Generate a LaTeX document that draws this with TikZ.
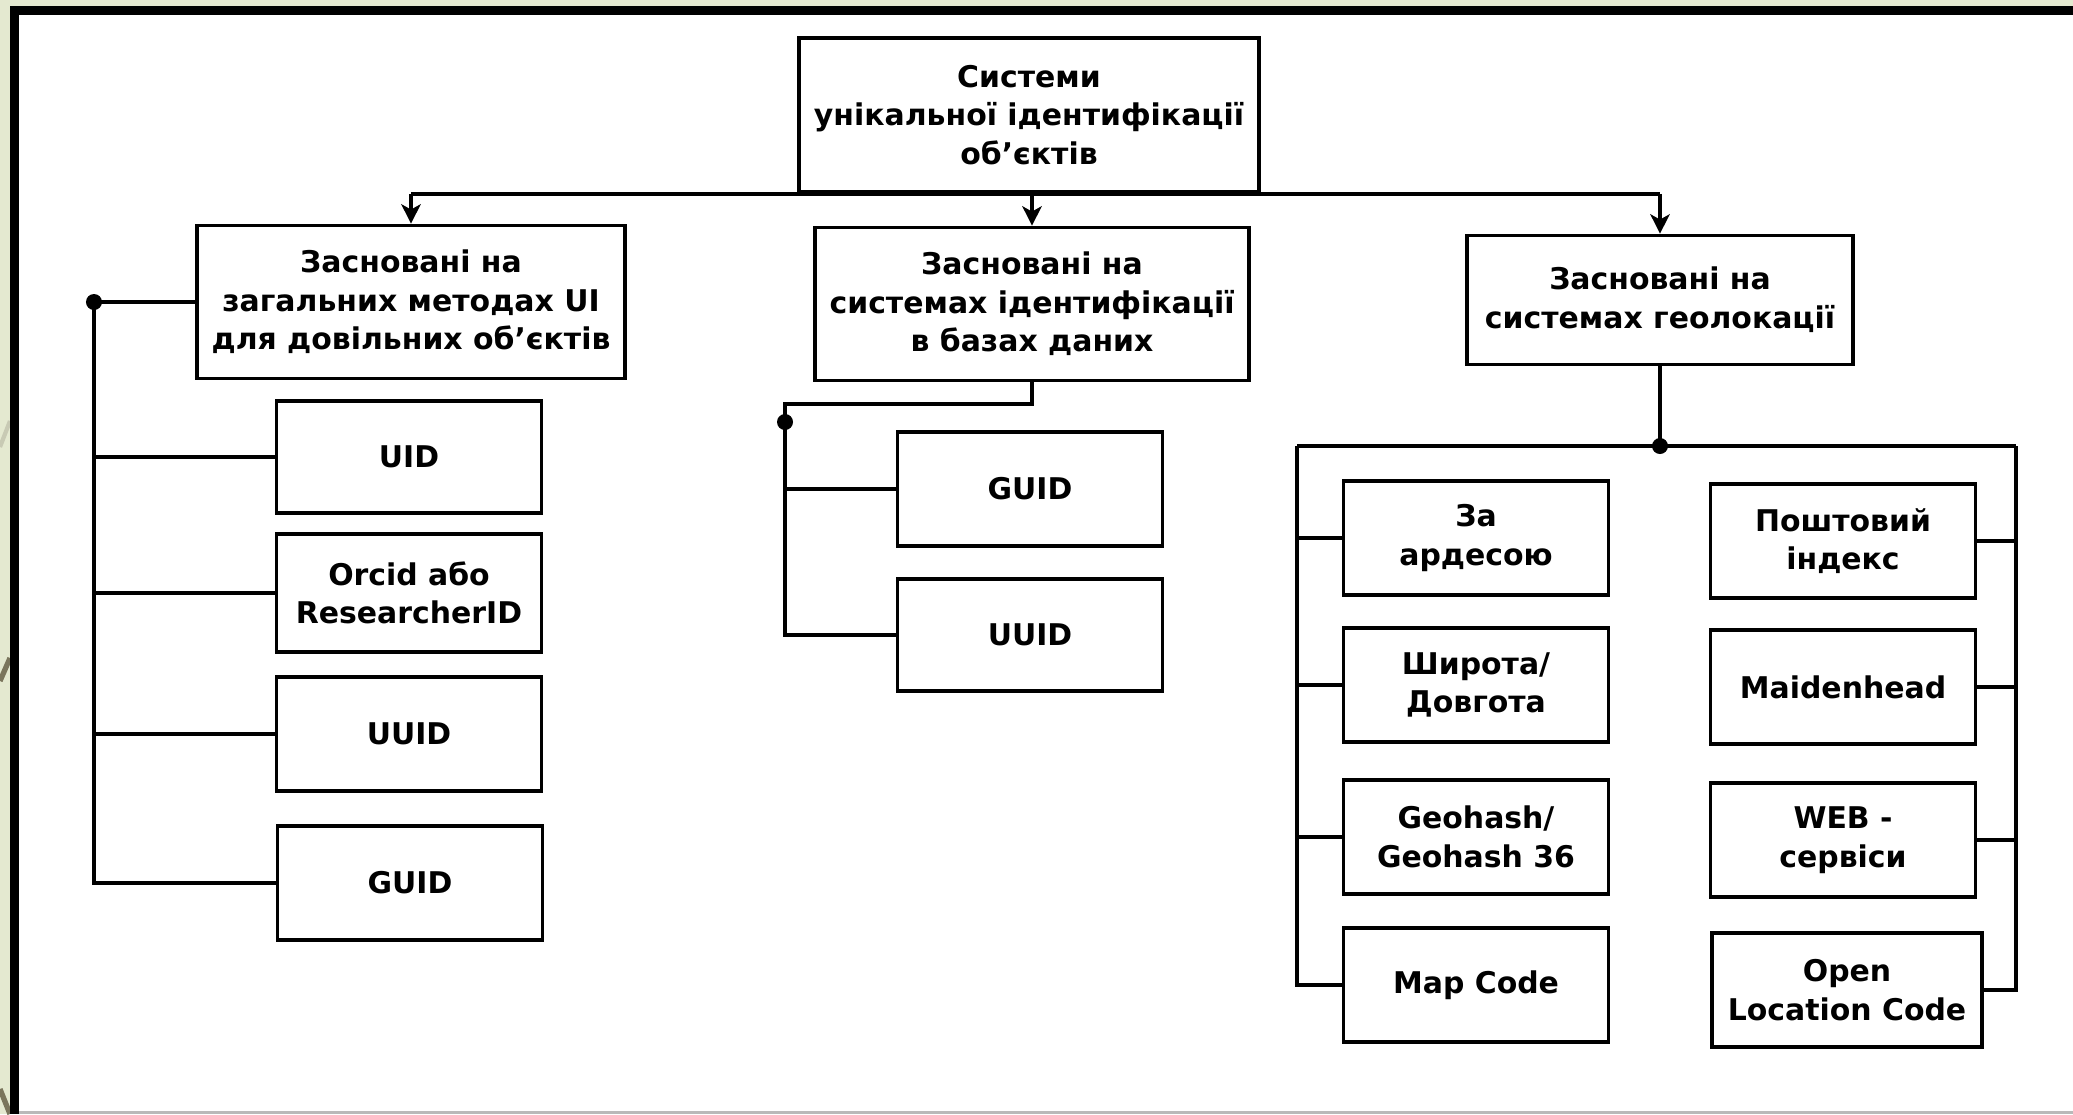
\documentclass[tikz,border=0pt]{standalone}
\usepackage{fontspec}
\setmainfont{DejaVu Sans}
\usetikzlibrary{arrows.meta}
\definecolor{slidebg}{RGB}{228,233,208}
\definecolor{decolight}{RGB}{200,202,180}
\definecolor{decodark}{RGB}{122,117,92}
\begin{document}
\begin{tikzpicture}[x=0.01cm,y=-0.01cm,
  box/.style={draw,line width=1.05pt,align=center,inner sep=2pt,font=\bfseries\fontsize{8.5}{11}\selectfont},
  leaf/.style={box,minimum width=2.65cm,minimum height=1.14cm},
  wire/.style={line width=0.95pt},
  arr/.style={wire,-{Stealth[length=5.5pt,width=5.5pt,inset=1.5pt]}}]
\useasboundingbox (0,0) rectangle (2073,1114);
\fill[slidebg] (0,0) rectangle (2073,1114);
\draw[decolight,line width=1.2pt] (0,447)--(10,421);
\draw[decodark,line width=1.5pt] (0,681)--(10,658);
\draw[decodark,line width=1.5pt] (0,1089)--(10,1114);
\fill[black] (10,6) rectangle (2073,1114);
\fill[white] (19,15) rectangle (2073,1111);
\fill[gray!55] (19,1111) rectangle (2073,1114);
\node[box,minimum width=4.6cm,minimum height=1.54cm] (top) at (1029,115) {Системи\\унікальної ідентифікації\\об’єктів};
\node[box,minimum width=4.28cm,minimum height=1.53cm] (gen) at (411,302) {Засновані на\\загальних методах UI\\для довільних об’єктів};
\node[box,minimum width=4.34cm,minimum height=1.53cm] (db) at (1032,304) {Засновані на\\системах ідентифікації\\в базах даних};
\node[box,minimum width=3.86cm,minimum height=1.29cm] (geo) at (1660,300) {Засновані на\\системах геолокації};
\node[leaf,minimum height=1.12cm] (uid) at (409,457) {UID};
\node[leaf,minimum height=1.18cm] (orcid) at (409,593) {Orcid або\\ResearcherID};
\node[leaf] (uuidg) at (409,734) {UUID};
\node[leaf] (guidg) at (410,883) {GUID};
\node[leaf] (guiddb) at (1030,489) {GUID};
\node[leaf,minimum height=1.12cm] (uuiddb) at (1030,635) {UUID};
\node[leaf] (addr) at (1476,538) {За\\ардесою};
\node[leaf] (latlon) at (1476,685) {Широта/\\Довгота};
\node[leaf] (geohash) at (1476,837) {Geohash/\\Geohash 36};
\node[leaf] (mapcode) at (1476,985) {Map Code};
\node[leaf] (zip) at (1843,541) {Поштовий\\індекс};
\node[leaf] (maiden) at (1843,687) {Maidenhead};
\node[leaf] (web) at (1843,840) {WEB -\\сервіси};
\node[leaf,minimum width=2.7cm] (olc) at (1847,990) {Open\\Location Code};
\draw[wire] (gen.north |- top.south)--(geo.north |- top.south);
\foreach \n in {gen,db,geo} \draw[arr] (\n.north |- top.south)--(\n.north);
\coordinate (gdot) at (94,302);
\draw[wire] (gdot)--(gen.west);
\draw[wire] (gdot) |- (guidg.west);
\foreach \n in {uid,orcid,uuidg} \draw[wire] (gdot |- \n.west)--(\n.west);
\fill (gdot) circle (0.08cm);
\coordinate (dbk) at (785,404);
\draw[wire] (db.south) |- (dbk) |- (uuiddb.west);
\draw[wire] (dbk |- guiddb.west)--(guiddb.west);
\fill (785,422) circle (0.08cm);
\coordinate (rdot) at (1660,446);
\coordinate (rl) at (1297,446);
\coordinate (rr) at (2016,446);
\draw[wire] (geo.south)--(rdot);
\draw[wire] (rl)--(rr);
\draw[wire] (rl) |- (mapcode.west);
\draw[wire] (rr) |- (olc.east);
\foreach \n in {addr,latlon,geohash} \draw[wire] (rl |- \n.west)--(\n.west);
\foreach \n in {zip,maiden,web} \draw[wire] (rr |- \n.east)--(\n.east);
\fill (rdot) circle (0.08cm);
\end{tikzpicture}
\end{document}
